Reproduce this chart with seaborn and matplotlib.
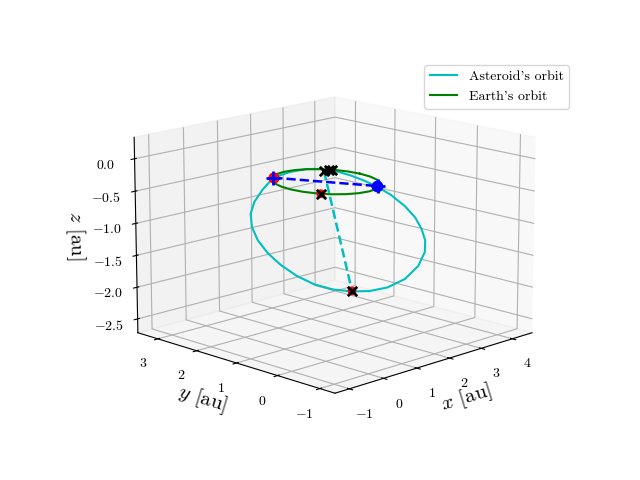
import matplotlib
matplotlib.use("Agg")
import matplotlib.pyplot as plt
import seaborn as sns

sns.set_palette(["c", "g", "b", "r", "k"])
colors = sns.color_palette()
plt.rcParams["font.family"] = ["cmr10", "DejaVu Serif"]
plt.rcParams["mathtext.fontset"] = "cm"
plt.rcParams["axes.unicode_minus"] = False
plt.rcParams["axes.formatter.use_mathtext"] = True

# asteroid orbit
ast_x = [-0.493, -0.240, 0.030, 0.345, 0.730, 1.171, 1.638, 2.113, 2.575, 2.979, 3.286, 3.486, 3.602, 3.615, 3.466,
         3.146, 2.763, 2.408, 2.039, 1.665, 1.266, 0.845, 0.504, 0.240, 0.008, -0.195, -0.362, -0.478, -0.521, -0.493]
ast_y = [0.847, 1.330, 1.761, 2.128, 2.431, 2.661, 2.806, 2.863, 2.839, 2.719, 2.485, 2.165, 1.804, 1.366, 0.822,
         0.258, -0.184, -0.457, -0.647, -0.783, -0.849, -0.847, -0.783, -0.682, -0.558, -0.411, -0.215, 0.062, 0.423, 0.847]
ast_z = [-0.009, -0.294, -0.571, -0.853, -1.150, -1.454, -1.744, -2.012, -2.247, -2.420, -2.507, -2.512, -2.459, -2.327,
         -2.077, -1.731, -1.391, -1.118, -0.865, -0.626, -0.396, -0.176, -0.017, 0.089, 0.172, 0.232, 0.258, 0.231, 0.140, -0.009]

# earth orbit
earth_x = [1, 0.966, 0.866, 0.707, 0.5, 0.259, 0, -0.259, -0.5, -0.707, -0.866, -0.966, -1,
           -0.966, -0.866, -0.707, -0.5, -0.259, 0, 0.259, 0.5, 0.707, 0.866, 0.966, 1]
earth_y = [0, 0.259, 0.5, 0.707, 0.866, 0.966, 1, 0.966, 0.866, 0.707, 0.5, 0.259, 0,
           -0.259, -0.5, -0.707, -0.866, -0.966, -1, -0.966, -0.866, -0.707, -0.5, -0.259, 0]
earth_z = [0] * 25

# apsis and node lines
apsis_x = [-0.297, 3.474]
apsis_y = [-0.197, 2.147]
apsis_z = [0.218, -2.5]
node_x = [-0.533, 0.452]
node_y = [0.814, -0.823]
node_z = [0, 0]

# markers
plus_x = [-0.542, 0.471]
plus_y = [0.821, -0.838]
plus_z = [0, 0]
blue_x = [0.452]
blue_y = [-0.823]
blue_z = [0]
red_x = [-0.541, -0.83, 3.474]
red_y = [0.79, -0.554, 2.147]
red_z = [0, 0, -2.5]
red_size = [50, 28, 28]
cross_x = [-0.83, 3.474, -0.297, 0.786, 0.846]
cross_y = [-0.554, 2.147, -0.197, 0.554, 0.538]
cross_z = [0, -2.5, 0.218, 0, 0]

x_ticks = [-1, 0, 1, 2, 3, 4]
y_ticks = [-1, 0, 1, 2, 3]
z_ticks = [-2.5, -2.0, -1.5, -1.0, -0.5, 0.0]

fig = plt.figure(figsize=(6.4, 4.8), dpi=100)
ax = fig.add_subplot(projection="3d", computed_zorder=False)
ax.view_init(elev=14.5, azim=-135)
ax.set_proj_type("persp", focal_length=1.35)
ax.set_box_aspect((4, 4, 2.87), zoom=1.172)

ax.plot(ast_x, ast_y, ast_z, color=colors[0], label="Asteroid's orbit", zorder=2)
ax.plot(earth_x, earth_y, earth_z, color=colors[1], label="Earth's orbit", zorder=2)
ax.plot(apsis_x, apsis_y, apsis_z, "--", lw=1.8, color=colors[0], zorder=3)
ax.plot(node_x, node_y, node_z, "--", lw=1.8, color=colors[2], zorder=3)

ax.scatter(red_x, red_y, red_z, color=colors[3], s=red_size, depthshade=False, zorder=4)
ax.scatter(blue_x, blue_y, blue_z, color=colors[2], s=55, depthshade=False, zorder=5)
ax.scatter(plus_x, plus_y, plus_z, color=colors[2], marker="+", s=100, linewidths=2, depthshade=False, zorder=6)
ax.scatter(cross_x, cross_y, cross_z, color=colors[4], marker="x", s=45, linewidths=2, depthshade=False, zorder=7)

ax.set_xlim(-1.41, 4.65)
ax.set_ylim(-1.35, 3.53)
ax.set_zlim(-2.72, 0.33)
ax.set_xticks(x_ticks)
ax.set_yticks(y_ticks)
ax.set_zticks(z_ticks)
ax.set_xticklabels([f"${t}$" for t in x_ticks])
ax.set_yticklabels([f"${t}$" for t in y_ticks])
ax.set_zticklabels([f"${t:.1f}$" for t in z_ticks])
ax.tick_params(labelsize=10, pad=2)

ax.set_xlabel("$x$ [au]", fontsize=15, labelpad=-2)
ax.set_ylabel("$y$ [au]", fontsize=15, labelpad=-1)
ax.set_zlabel("$z$ [au]", fontsize=15, labelpad=0)
ax.legend(loc="upper right", bbox_to_anchor=(569 / 640, 1 - 65 / 480), bbox_transform=fig.transFigure, borderaxespad=0)
ax.set_position([0.125 + 2 / 640, 0.11 + 1.5 / 480, 0.775, 0.77])

plt.savefig("out.png", dpi=100)
